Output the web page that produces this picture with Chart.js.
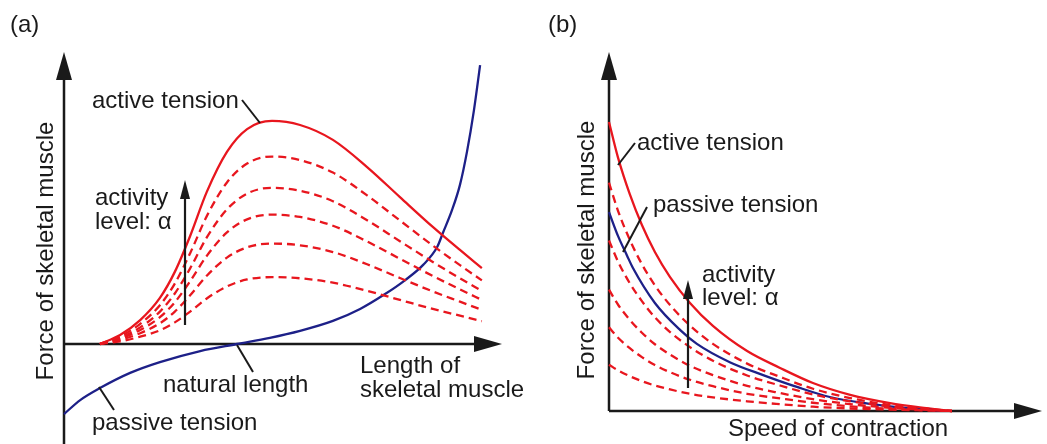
<!DOCTYPE html>
<html lang="en">
<head>
<meta charset="UTF-8">
<title>Force of skeletal muscle</title>
<script src="https://cdn.jsdelivr.net/npm/chart.js"></script>
<style>
  html, body { margin: 0; padding: 0; background: #fff; }
  #wrap { position: relative; width: 1047px; height: 444px; }
  canvas { position: absolute; top: 0; }
  #lengthChart { left: 0; }
  #speedChart { left: 530px; }
</style>
</head>
<body>
<div id="wrap">
  <canvas id="lengthChart" width="530" height="444"></canvas>
  <canvas id="speedChart" width="517" height="444"></canvas>
</div>
<script>
// ---- (a) force vs. length of the muscle ----
const lengthX   = [0.82, 1.28, 1.74, 2.19, 2.53, 2.88, 3.26, 3.72, 4.18, 4.75, 5.39, 6.14, 6.92, 7.67, 8.42, 9.04, 9.54];
const activeLen = [0, 0.31, 0.82, 1.58, 2.47, 3.70, 5.21, 6.58, 7.36, 7.64, 7.50, 6.99, 6.06, 5.03, 4.01, 3.22, 2.60];
// lower activity levels, top to bottom
const dashedLen = [
  [0, 0.26, 0.69, 1.33, 2.07, 3.11, 4.38, 5.53, 6.18, 6.42, 6.30, 5.87, 5.09, 4.23, 3.37, 2.70, 2.18],
  [0, 0.22, 0.57, 1.11, 1.73, 2.59, 3.65, 4.61, 5.15, 5.35, 5.25, 4.89, 4.24, 3.52, 2.81, 2.25, 1.82],
  [0, 0.18, 0.48, 0.92, 1.43, 2.15, 3.02, 3.82, 4.27, 4.43, 4.35, 4.05, 3.51, 2.92, 2.33, 1.87, 1.51],
  [0, 0.14, 0.37, 0.71, 1.11, 1.67, 2.34, 2.96, 3.31, 3.44, 3.38, 3.15, 2.73, 2.26, 1.80, 1.45, 1.17],
  [0, 0.09, 0.25, 0.47, 0.74, 1.11, 1.56, 1.97, 2.21, 2.29, 2.25, 2.10, 1.82, 1.51, 1.20, 0.97, 0.78]
];
const passiveLenX = [0, 0.37, 0.82, 1.51, 2.19, 3.11, 3.95, 4.70, 5.39, 6.14, 6.76, 7.33, 7.79, 8.20, 8.52, 8.65, 8.86, 9.04, 9.20, 9.36, 9.50];
const passiveLen  = [-2.40, -1.92, -1.51, -0.99, -0.62, -0.24, 0, 0.21, 0.45, 0.79, 1.20, 1.71, 2.19, 2.71, 3.32, 3.80, 4.59, 5.45, 6.58, 8.01, 9.55];

// ---- (b) force vs. speed of contraction ----
const speedX      = [0, 0.21, 0.48, 0.76, 1.06, 1.41, 1.87, 2.40, 3.19, 3.95, 4.71, 5.57, 6.49, 7.18, 7.92];
const activeSpeed = [8.05, 7.05, 6.04, 5.18, 4.43, 3.73, 3.01, 2.37, 1.67, 1.20, 0.78, 0.45, 0.22, 0.10, 0];
const dashedSpeed = [
  [6.36, 5.57, 4.77, 4.09, 3.50, 2.95, 2.38, 1.87, 1.32, 0.95, 0.62, 0.36, 0.17, 0.08, 0],
  [4.75, 4.16, 3.56, 3.06, 2.61, 2.20, 1.78, 1.40, 0.99, 0.71, 0.46, 0.27, 0.13, 0.06, 0],
  [3.38, 2.96, 2.54, 2.18, 1.86, 1.57, 1.26, 1.00, 0.70, 0.50, 0.33, 0.19, 0.09, 0.04, 0],
  [2.33, 2.04, 1.75, 1.50, 1.28, 1.08, 0.87, 0.69, 0.48, 0.35, 0.23, 0.13, 0.06, 0.03, 0],
  [1.29, 1.13, 0.97, 0.83, 0.71, 0.60, 0.48, 0.38, 0.27, 0.19, 0.12, 0.07, 0.04, 0.02, 0]
];
const passiveSpeedX = [0, 0.21, 0.42, 0.55, 1.06, 1.64, 2.03, 2.79, 3.56, 4.34, 5.10, 6.03, 6.95, 7.64];
const passiveSpeed  = [5.54, 4.87, 4.32, 3.99, 3.01, 2.26, 1.87, 1.36, 1.00, 0.67, 0.39, 0.20, 0.07, 0.01];

const RED = '#e8161e', BLUE = '#1d2088', INK = '#1a1a1a';
const FONT = '24px "Liberation Sans", Arial, sans-serif';

function pts(xs, ys) { return xs.map((x, i) => ({ x, y: ys[i] })); }

function solid(xs, ys, color) {
  return { data: pts(xs, ys), borderColor: color, borderWidth: 2.3, pointRadius: 0,
           cubicInterpolationMode: 'monotone', clip: false };
}
function dashed(xs, ys) {
  return { data: pts(xs, ys), borderColor: RED, borderWidth: 2.3, borderDash: [8, 5],
           pointRadius: 0, cubicInterpolationMode: 'monotone', clip: false };
}

function arrowHead(ctx, x, y, dir, len, half) {
  ctx.beginPath();
  if (dir === 'up') {
    ctx.moveTo(x, y); ctx.lineTo(x - half, y + len); ctx.lineTo(x + half, y + len);
  } else {
    ctx.moveTo(x, y); ctx.lineTo(x - len, y - half); ctx.lineTo(x - len, y + half);
  }
  ctx.closePath();
  ctx.fill();
}

function line(ctx, x1, y1, x2, y2, w) {
  ctx.lineWidth = w;
  ctx.beginPath(); ctx.moveTo(x1, y1); ctx.lineTo(x2, y2); ctx.stroke();
}

// axes with arrow tips, drawn under the curves
const axesPlugin = {
  id: 'arrowAxes',
  beforeDatasetsDraw(chart) {
    const { ctx, chartArea: a, scales: { x, y } } = chart;
    const ox = x.getPixelForValue(0), oy = y.getPixelForValue(0);
    const yBottom = chart.options.plugins.arrowAxes.yToBottom ? chart.height : oy;
    ctx.save();
    ctx.strokeStyle = INK; ctx.fillStyle = INK;
    line(ctx, ox, yBottom, ox, a.top + 20, 2.5);
    line(ctx, ox, oy, a.right - 20, oy, 2.5);
    arrowHead(ctx, ox, a.top, 'up', 28, 8);
    arrowHead(ctx, a.right, oy, 'right', 28, 8);
    ctx.restore();
  }
};

// labels, leader lines and the activity arrow
const notesPlugin = {
  id: 'notes',
  afterDatasetsDraw(chart) {
    const o = chart.options.plugins.notes;
    const ctx = chart.ctx;
    ctx.save();
    ctx.fillStyle = INK; ctx.strokeStyle = INK;
    ctx.font = FONT;
    ctx.textBaseline = 'alphabetic';
    ctx.textAlign = 'left';
    o.texts.forEach(t => ctx.fillText(t.text, t.x, t.y));
    o.leaders.forEach(l => line(ctx, l[0], l[1], l[2], l[3], 2));
    const ar = o.activity;
    line(ctx, ar.x, ar.y0, ar.x, ar.y1 + 16, 2.2);
    arrowHead(ctx, ar.x, ar.y1, 'up', 19, 5);
    ctx.translate(o.yTitle.x, o.yTitle.y);
    ctx.rotate(-Math.PI / 2);
    ctx.textAlign = 'center';
    ctx.fillText('Force of skeletal muscle', 0, 0);
    ctx.restore();
  }
};

function baseOptions(pad, xMax, yMin, yMax) {
  return {
    responsive: false,
    animation: false,
    layout: { padding: pad },
    scales: {
      x: { type: 'linear', min: 0, max: xMax, display: false },
      y: { type: 'linear', min: yMin, max: yMax, display: false }
    },
    plugins: { legend: { display: false }, tooltip: { enabled: false } }
  };
}

// (a)
const optA = baseOptions({ left: 64, right: 28, top: 52, bottom: 0 }, 10, -3.4247, 10);
optA.plugins.arrowAxes = { yToBottom: true };
optA.plugins.notes = {
  texts: [
    { text: '(a)', x: 10, y: 32 },
    { text: 'active tension', x: 92, y: 108 },
    { text: 'activity', x: 95, y: 205 },
    { text: 'level: α', x: 95, y: 229 },
    { text: 'natural length', x: 163, y: 392 },
    { text: 'passive tension', x: 92, y: 430 },
    { text: 'Length of', x: 360, y: 373 },
    { text: 'skeletal muscle', x: 360, y: 397 }
  ],
  leaders: [[242, 100, 260, 123], [237, 345, 253, 372], [99, 387, 114, 410]],
  activity: { x: 185, y0: 325, y1: 180 },
  yTitle: { x: 53, y: 251 }
};
new Chart(document.getElementById('lengthChart'), {
  type: 'line',
  data: { datasets: [
    ...dashedLen.map(ys => dashed(lengthX, ys)),
    solid(lengthX, activeLen, RED),
    solid(passiveLenX, passiveLen, BLUE)
  ] },
  options: optA,
  plugins: [axesPlugin, notesPlugin]
});

// (b)
const optB = baseOptions({ left: 79, right: 5, top: 52, bottom: 33 }, 10, 0, 10);
optB.plugins.arrowAxes = { yToBottom: false };
optB.plugins.notes = {
  texts: [
    { text: '(b)', x: 18, y: 32 },
    { text: 'active tension', x: 107, y: 150 },
    { text: 'passive tension', x: 123, y: 212 },
    { text: 'activity', x: 172, y: 282 },
    { text: 'level: α', x: 172, y: 305 },
    { text: 'Speed of contraction', x: 198, y: 436 }
  ],
  leaders: [[105, 143, 88, 165], [117, 207, 93, 252]],
  activity: { x: 158, y0: 388, y1: 280 },
  yTitle: { x: 64, y: 250 }
};
new Chart(document.getElementById('speedChart'), {
  type: 'line',
  data: { datasets: [
    ...dashedSpeed.map(ys => dashed(speedX, ys)),
    solid(passiveSpeedX, passiveSpeed, BLUE),
    solid(speedX, activeSpeed, RED)
  ] },
  options: optB,
  plugins: [axesPlugin, notesPlugin]
});
</script>
</body>
</html>
